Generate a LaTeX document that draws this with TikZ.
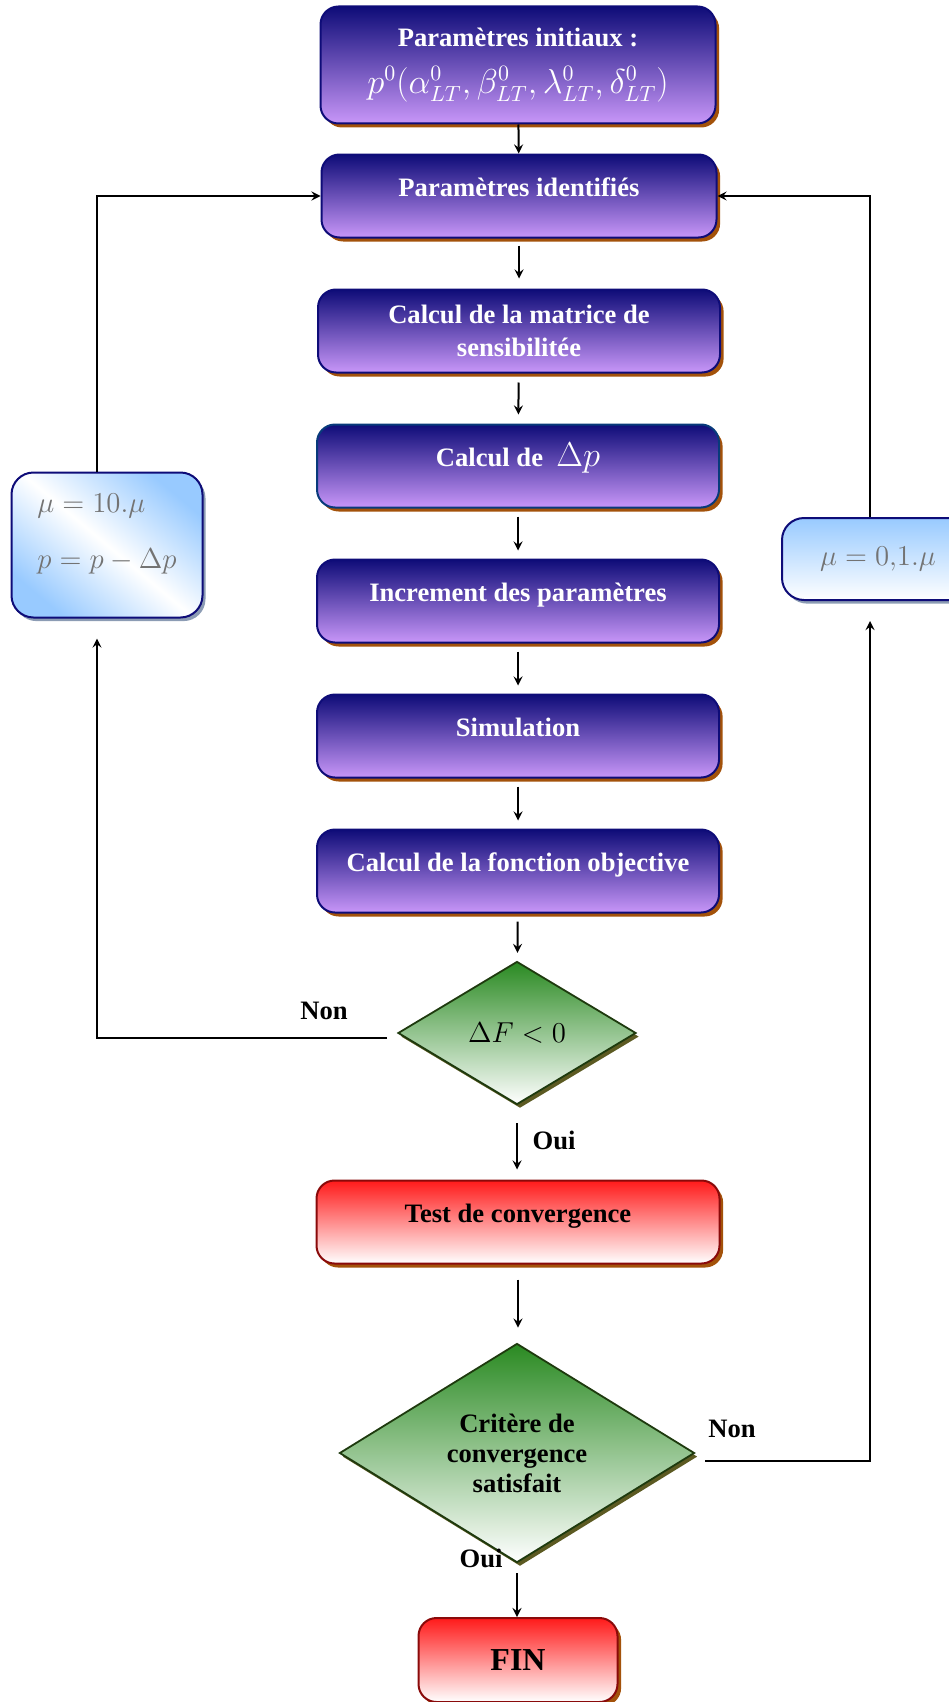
\documentclass[tikz,border=0pt]{standalone}
\usepackage{fontspec}
\setmainfont{Liberation Serif}
\usetikzlibrary{shapes.geometric,shadows}
\definecolor{navy}{HTML}{0E0C78}
\definecolor{lilac}{HTML}{C896F8}
\definecolor{rust}{HTML}{A3520A}
\definecolor{leaf}{HTML}{2A8A22}
\definecolor{pine}{HTML}{1E3A0E}
\definecolor{olive}{HTML}{5C5A22}
\definecolor{sky}{HTML}{98CAFF}
\definecolor{slate}{HTML}{8C9CB4}
\definecolor{crimson}{HTML}{FF1A1A}
\definecolor{maroon}{HTML}{8A0A0A}
\tikzset{
  stepbox/.style={rectangle, rounded corners=9pt, draw=navy, line width=1pt,
    top color=navy, bottom color=lilac, text=white, font=\bfseries\fontsize{13.3}{16.5}\selectfont,
    minimum width=201pt, minimum height=41.5pt, align=center,
    drop shadow={shadow xshift=1.8pt, shadow yshift=-2pt, fill=rust, opacity=1}},
  oneline/.style={text height=9.5pt, text depth=9.5pt},
  muebox/.style={rectangle, rounded corners=11pt, draw=navy, line width=1pt,
    text=black!55, font=\fontsize{15}{22}\selectfont, minimum height=41pt,
    drop shadow={shadow xshift=1.5pt, shadow yshift=-1.8pt, fill=slate, opacity=1}},
  choice/.style={diamond, draw=pine, line width=0.9pt, top color=leaf, bottom color=white,
    inner sep=0pt, font=\bfseries\fontsize{13.3}{15}\selectfont, align=center,
    drop shadow={shadow xshift=1.5pt, shadow yshift=-1.8pt, fill=olive, opacity=1}},
  redbox/.style={rectangle, rounded corners=9pt, draw=maroon, line width=1pt,
    top color=crimson, bottom color=white, font=\bfseries\fontsize{13.3}{16}\selectfont,
    minimum height=41.5pt,
    drop shadow={shadow xshift=1.8pt, shadow yshift=-2pt, fill=rust, opacity=1}},
  tag/.style={font=\bfseries\fontsize{13.3}{16}\selectfont},
  flow/.style={->, line width=1pt}
}
\begin{document}
\begin{tikzpicture}[x=0.5pt, y=-0.5pt, >=stealth]
\useasboundingbox (0,0) rectangle (948,1702);
\node[stepbox, minimum width=197.5pt, minimum height=58.5pt] (init) at (518,65)
  {Paramètres initiaux :\\[7pt]
   {\mdseries\fontsize{16}{18}\selectfont$p^0(\alpha^0_{LT},\beta^0_{LT},\lambda^0_{LT},\delta^0_{LT})$}};
\node[stepbox, oneline, minimum width=197.5pt] (ident) at (519,196) {Paramètres identifiés};
\node[stepbox] (sens) at (519,331) {Calcul de la matrice de\\sensibilitée};
\node[stepbox, oneline, draw=navy!60!teal] (dp) at (518,466)
  {Calcul de \ {\mdseries\fontsize{16}{18}\selectfont$\Delta p$}};
\node[stepbox, oneline] (incr) at (518,601) {Increment des paramètres};
\node[stepbox, oneline] (simu) at (518,736) {Simulation};
\node[stepbox, oneline] (obj) at (518,871) {Calcul de la fonction objective};
\node[choice, minimum width=119pt, minimum height=71.5pt] (dF) at (517,1033)
  {\mdseries\fontsize{14}{16}\selectfont$\Delta F<0$};
\node[redbox, oneline, minimum width=201.5pt] (test) at (518,1222) {Test de convergence};
\node[choice, minimum width=177.5pt, minimum height=108.5pt] (crit) at (517,1453)
  {Critère de\\convergence\\satisfait};
\node[redbox, minimum width=99.5pt, minimum height=42pt, font=\bfseries\fontsize{16}{18}\selectfont] (fin) at (518,1660) {FIN};
\node[muebox, minimum width=95.5pt, minimum height=72.5pt, shading=axis, top color=sky,
  bottom color=sky, middle color=white, shading angle=-40, align=left,
  text depth=14pt] (mul) at (107,545)
  {$\mu=10.\mu$\\[6pt]$p=p-\Delta p$};
\node[muebox, minimum width=96pt, top color=sky, bottom color=white] (mur) at (878,559)
  {$\mu=0{,}1.\mu$};
\node[tag] (non1) at (324,1011) {Non};
\node[tag] (oui1) at (554,1140) {Oui};
\node[tag] (non2) at (732,1429) {Non};
\node[tag] (oui2) at (481,1558) {Oui};
\draw[flow] (init) -- (ident);
\draw[flow, shorten <=3.5pt, shorten >=5pt] (ident) -- (sens);
\draw[flow, shorten <=4.5pt, shorten >=4.5pt] (sens) -- (dp);
\draw[flow, shorten <=4pt, shorten >=4pt] (dp) -- (incr);
\draw[flow, shorten <=4pt, shorten >=4pt] (incr) -- (simu);
\draw[flow, shorten <=4pt, shorten >=4pt] (simu) -- (obj);
\draw[flow, shorten <=4pt, shorten >=4pt] (obj) -- (dF);
\draw[flow, shorten <=9pt, shorten >=5pt] (dF.south) -- (dF.south |- test.north);
\draw[flow, shorten <=7.5pt, shorten >=7.5pt] (test.south) -- (test.south |- crit.north);
\draw[flow, shorten <=5pt] (crit.south) -- (crit.south |- fin.north);
\draw[flow] ([xshift=-5pt, yshift=-2.5pt]dF.west) -| ([xshift=-5pt, yshift=-10pt]mul.south);
\draw[flow] ([xshift=-5pt]mul.north) |- (ident.west);
\draw[flow] ([xshift=5pt, yshift=-4pt]crit.east) -| ([xshift=-4pt, yshift=-10pt]mur.south);
\draw[flow] ([xshift=-4pt]mur.north) |- (ident.east);
\end{tikzpicture}
\end{document}
